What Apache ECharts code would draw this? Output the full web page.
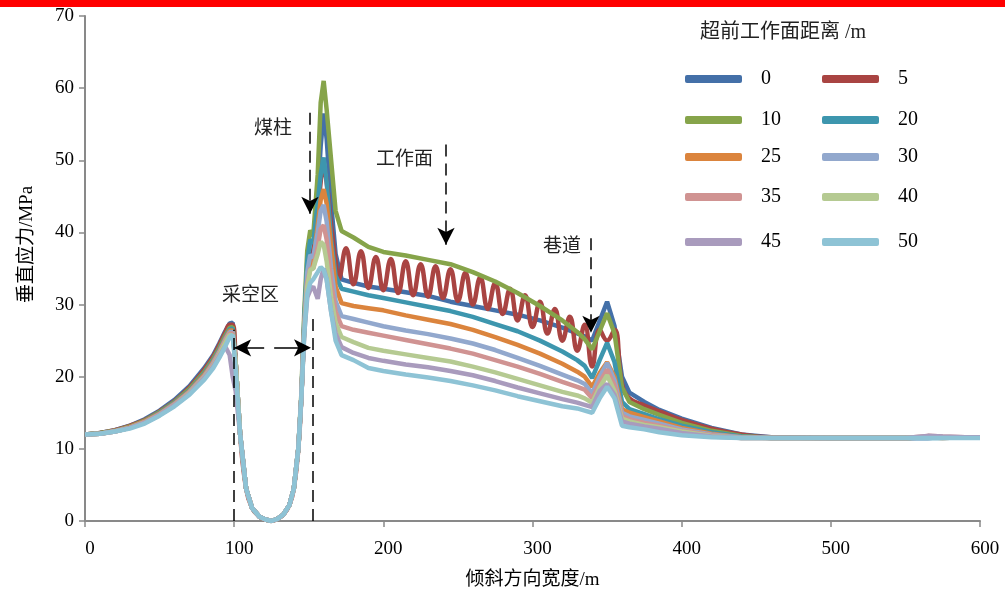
<!DOCTYPE html>
<html>
<head>
<meta charset="utf-8">
<script src="https://cdn.jsdelivr.net/npm/echarts@6/dist/echarts.min.js"></script>
<style>
html, body { margin: 0; padding: 0; background: #fff; }
#chart { width: 1005px; height: 595px; }
</style>
</head>
<body>
<div id="chart"></div>
<script>
// 倾斜方向宽度 (m)
const xs = [0, 10, 20, 30, 40, 50, 60, 70, 80, 86, 90, 94, 97, 99, 101, 104, 108, 112, 117, 121, 125, 129, 133, 137, 140,
  143, 145, 147, 149, 151, 153, 156, 158, 160, 162, 165, 168, 172, 180, 190, 200, 215, 230, 245, 260, 275, 290, 305, 320,
  330, 335, 340, 345, 350, 355, 360, 365, 375, 385, 400, 420, 440, 460, 500, 550, 565, 575, 590, 600];

// 各超前距离的垂直应力 (MPa)
const s0 = [12, 12.2, 12.6, 13.2, 14.1, 15.3, 16.8, 18.7, 21.2, 23, 24.6, 26.3, 27.4, 27.5, 22, 12, 4.5, 1.8, 0.6, 0.2, 0, 0.3, 0.9, 2.2, 4.5,
  10, 17, 27, 34, 36.5, 37.5, 45, 52, 56.5, 53, 44, 37, 33.5, 33, 32.5, 32.2, 31.7, 31.2, 30.4, 29.8, 29.2, 28.6, 27.8, 26.8,
  26, 25.6, 25, 27.7, 30.4, 27, 20, 17.8, 16.5, 15.4, 14.2, 12.9, 12, 11.6, 11.5, 11.5, 11.5, 11.6, 11.6, 11.6];
const s10 = [12, 12.2, 12.5, 13.1, 13.9, 15.1, 16.5, 18.3, 20.7, 22.5, 24, 25.7, 26.8, 26.9, 22, 12, 4.5, 1.8, 0.6, 0.2, 0, 0.3, 0.9, 2.2, 4.5,
  10, 17.5, 29, 37.5, 40.3, 39.5, 48, 58, 61, 57, 50, 43, 40.2, 39.3, 38, 37.3, 36.8, 36.2, 35.6, 34.5, 33.2, 31.6, 29.8, 27.8,
  26.2, 25.2, 23.8, 26.3, 28.8, 26, 18.5, 16.5, 15.5, 14.7, 13.6, 12.5, 11.8, 11.5, 11.5, 11.5, 11.6, 11.6, 11.6, 11.6];
const s20 = [12, 12.1, 12.5, 13, 13.8, 15, 16.4, 18.1, 20.5, 22.3, 23.8, 25.5, 26.6, 26.7, 22, 12, 4.5, 1.8, 0.6, 0.2, 0, 0.3, 0.9, 2.2, 4.5,
  10, 17, 28, 36, 39, 38.5, 44, 48, 50.4, 47, 39, 34, 32.2, 31.8, 31.3, 30.9, 30.3, 29.7, 29.1, 28.3, 27.3, 26.3, 25, 23.5,
  22.3, 21.5, 19.8, 22.3, 24.7, 22, 16.5, 15.5, 14.8, 14.1, 13.2, 12.3, 11.7, 11.5, 11.5, 11.5, 11.5, 11.5, 11.6, 11.6];
const s25 = [12, 12.1, 12.5, 13, 13.8, 14.9, 16.3, 18, 20.3, 22.1, 23.6, 25.3, 26.4, 26.4, 22, 12, 4.5, 1.8, 0.6, 0.2, 0, 0.3, 0.9, 2.2, 4.5,
  10, 17, 27, 33.5, 35.5, 36, 41, 44.5, 46, 44, 38, 32.5, 30.2, 29.8, 29.5, 29.2, 28.5, 27.9, 27.3, 26.5, 25.5, 24.4, 23.2, 21.8,
  20.7, 20, 18.6, 20.5, 22, 20, 15.5, 15, 14.4, 13.8, 12.9, 12.1, 11.6, 11.5, 11.5, 11.5, 11.6, 11.5, 11.6, 11.6];
const s30 = [12, 12.1, 12.4, 12.9, 13.7, 14.8, 16.2, 17.9, 20.1, 21.9, 23.4, 25.1, 26.2, 26.2, 22, 12, 4.5, 1.8, 0.6, 0.2, 0, 0.3, 0.9, 2.2, 4.5,
  10, 17, 27, 34.5, 36.9, 36.5, 40, 43, 43.8, 41.5, 35, 30.5, 28.4, 28, 27.5, 27, 26.4, 25.9, 25.3, 24.6, 23.7, 22.6, 21.5, 20.3,
  19.5, 19, 17.7, 20, 21.9, 19.5, 15, 14.5, 14, 13.5, 12.7, 12, 11.6, 11.5, 11.5, 11.5, 11.5, 11.6, 11.6, 11.6];
const s35 = [12, 12.1, 12.4, 12.9, 13.7, 14.8, 16.1, 17.8, 20, 21.7, 23.2, 24.9, 26, 26, 22, 12, 4.5, 1.8, 0.6, 0.2, 0, 0.3, 0.9, 2.2, 4.5,
  10, 17, 26.5, 33, 35, 35, 38, 40.5, 41, 39, 33, 29, 27, 26.5, 26.1, 25.7, 25.1, 24.5, 23.9, 23.2, 22.3, 21.4, 20.4, 19.3,
  18.6, 18.2, 17, 19.2, 21, 18.8, 14.6, 14.1, 13.6, 13.2, 12.5, 11.9, 11.5, 11.5, 11.5, 11.5, 11.8, 11.7, 11.6, 11.6];
const s40 = [12, 12.1, 12.4, 12.9, 13.6, 14.7, 16, 17.7, 19.9, 21.5, 23, 24.7, 25.8, 25.7, 22, 12, 4.5, 1.8, 0.6, 0.2, 0, 0.3, 0.9, 2.2, 4.5,
  10, 17, 26.5, 32.5, 34.8, 35, 37, 38.7, 38.3, 36, 31, 27.5, 25.5, 24.8, 24, 23.6, 23.1, 22.6, 22.1, 21.4, 20.6, 19.7, 18.8, 17.9,
  17.4, 17, 16.4, 18.5, 20.2, 18, 14.2, 13.8, 13.3, 13, 12.4, 11.8, 11.5, 11.5, 11.5, 11.5, 11.6, 11.6, 11.6, 11.6];
const s45 = [12, 12.1, 12.4, 12.9, 13.6, 14.7, 16, 17.6, 19.8, 21.4, 22.8, 24.2, 23, 20, 18, 12, 4.5, 1.8, 0.6, 0.2, 0, 0.3, 0.9, 2.2, 4.5,
  10, 17, 26, 31, 32, 32.5, 30.8, 33.5, 35, 33.5, 29, 26, 24.1, 23.3, 22.6, 22.2, 21.7, 21.3, 20.8, 20.2, 19.4, 18.5, 17.7, 16.9,
  16.4, 16.1, 15.8, 18, 19, 17.5, 13.8, 13.5, 13.1, 12.8, 12.2, 11.7, 11.5, 11.5, 11.5, 11.5, 11.8, 11.7, 11.6, 11.6];
const s50 = [12, 12.1, 12.4, 12.8, 13.5, 14.6, 15.9, 17.5, 19.6, 21.2, 22.6, 24.2, 25.5, 25.8, 21, 12, 4.5, 1.8, 0.6, 0.2, 0, 0.3, 0.9, 2.2, 4.5,
  10, 17, 26, 31.5, 33, 33.5, 34.5, 35.2, 34.8, 33.5, 29, 25, 23, 22.3, 21.2, 20.8, 20.3, 19.9, 19.4, 18.8, 18.1, 17.3, 16.6, 15.9,
  15.6, 15.3, 15, 17, 18.6, 17, 13.2, 13, 12.7, 12.3, 11.9, 11.6, 11.5, 11.5, 11.5, 11.5, 11.5, 11.5, 11.5, 11.5];

// 超前 5 m 的曲线在工作面段有波动，单独取点
const xs5 = [0, 10, 20, 30, 40, 50, 60, 70, 80, 86, 90, 94, 97, 99, 101, 104, 108, 112, 117, 121, 125, 129, 133, 137, 140,
  143, 145, 147, 149, 151, 153, 156, 158, 160, 162, 165, 168, 170, 175, 180, 185, 190, 195, 200, 205, 210, 215, 220, 225,
  230, 235, 240, 245, 250, 255, 260, 265, 270, 275, 280, 285, 290, 295, 300, 305, 310, 315, 320, 325, 330, 335, 340,
  345, 350, 355, 360, 365, 375, 385, 400, 420, 440, 460, 500, 550, 565, 575, 590, 600];
const s5 = [12, 12.2, 12.6, 13.2, 14, 15.2, 16.6, 18.5, 21, 22.8, 24.4, 26.1, 27.2, 27.2, 22, 12, 4.5, 1.8, 0.6, 0.2, 0, 0.3, 0.9, 2.2, 4.5,
  10, 17, 27, 34, 36, 37, 42, 47, 49, 47, 41, 36, 33.5, 37.8, 32.8, 37.4, 32.3, 36.6, 32, 36.3, 31.6, 36, 31.3, 35.6,
  31.1, 35.3, 30.9, 34.9, 30.5, 34.4, 30, 33.8, 29.4, 33, 28.7, 32.2, 27.8, 31.3, 26.9, 30.4, 26, 29.4, 25, 28.3, 23.6, 27.2, 21.4,
  26.5, 25, 26.5, 19, 17, 16, 15.2, 14, 12.8, 12, 11.6, 11.5, 11.5, 11.6, 11.6, 11.6, 11.6];

const names = ['0', '5', '10', '20', '25', '30', '35', '40', '45', '50'];
const colors = ['#4470A8', '#A94442', '#86A44A', '#3D96AE', '#DB843D', '#92A8CD', '#D09392', '#B5CA92', '#A99BBD', '#8EC3D5'];
const values = [s0, s5, s10, s20, s25, s30, s35, s40, s45, s50];

const serif = '"Liberation Serif", "Noto Sans CJK SC", serif';
const Chart = echarts.init(document.getElementById('chart'));

const lineSeries = names.map((n, i) => {
  const xArr = n === '5' ? xs5 : xs;
  return {
    name: n,
    type: 'line',
    symbol: 'none',
    smooth: n === '5' ? 0.45 : false,
    lineStyle: { width: 4.5, color: colors[i] },
    itemStyle: { color: colors[i] },
    emphasis: { disabled: true },
    data: xArr.map((x, k) => [x, values[i][k]])
  };
});

// 图例位置：两列五行
const legendRows = [80, 121, 158, 198, 243];
const legends = names.map((n, i) => ({
  data: [n],
  left: i % 2 === 0 ? 685 : 822,
  top: legendRows[Math.floor(i / 2)] - 11,
  padding: 0,
  icon: 'roundRect',
  itemWidth: 57,
  itemHeight: 8,
  selectedMode: false,
  textStyle: { fontFamily: serif, fontSize: 20, color: '#000', padding: [2, 0, 0, 14] }
}));

const dash = { color: '#000', width: 1.5, type: [12, 7] };
const annot = {
  name: 'annot',
  type: 'line',
  data: [],
  silent: true,
  markLine: {
    silent: true,
    animation: false,
    label: { show: false },
    emphasis: { disabled: true },
    symbolSize: [13, 17],
    data: [
      // 采空区边界
      [{ coord: [100, 0], symbol: 'none', lineStyle: dash }, { coord: [100, 26.5], symbol: 'none' }],
      [{ coord: [152.5, 0], symbol: 'none', lineStyle: dash }, { coord: [152.5, 28.2], symbol: 'none' }],
      [{ coord: [100, 24], symbol: 'arrow', lineStyle: { color: '#000', width: 1.5, type: [30, 10] } }, { coord: [151.5, 24], symbol: 'arrow' }],
      // 煤柱、工作面、巷道
      [{ coord: [150.8, 56.6], symbol: 'none', lineStyle: dash }, { coord: [150.8, 42.6], symbol: 'arrow' }],
      [{ coord: [242, 52.2], symbol: 'none', lineStyle: dash }, { coord: [242, 38.3], symbol: 'arrow' }],
      [{ coord: [339.2, 39.2], symbol: 'none', lineStyle: dash }, { coord: [339.2, 26.1], symbol: 'arrow' }]
    ]
  }
};

const txt = (text, x, y, size) => ({
  type: 'text', left: x, top: y,
  style: { text: text, font: (size || 19) + 'px ' + serif, fill: '#222' }
});

Chart.setOption({
  animation: false,
  color: colors,
  grid: { left: 85, right: 25, top: 16, bottom: 74 },
  legend: legends,
  xAxis: {
    type: 'value',
    min: 0, max: 600, interval: 100,
    name: '倾斜方向宽度/m',
    nameLocation: 'middle',
    nameGap: 50,
    nameTextStyle: { fontFamily: serif, fontSize: 19, color: '#000' },
    axisLine: { lineStyle: { color: '#898989', width: 2 } },
    axisTick: { show: true, length: 6, lineStyle: { color: '#898989', width: 1.5 } },
    axisLabel: { margin: 19, fontFamily: serif, fontSize: 19, color: '#000', padding: [0, 0, 0, 10] },
    splitLine: { show: false }
  },
  yAxis: {
    type: 'value',
    min: 0, max: 70, interval: 10,
    name: '垂直应力/MPa',
    nameLocation: 'middle',
    nameGap: 48,
    nameTextStyle: { fontFamily: serif, fontSize: 19, color: '#000', padding: [0, 0, 0, 48] },
    axisLine: { show: true, lineStyle: { color: '#898989', width: 2 } },
    axisTick: { show: true, length: 6, lineStyle: { color: '#898989', width: 1.5 } },
    axisLabel: { margin: 11, fontFamily: serif, fontSize: 19, color: '#000' },
    splitLine: { show: false }
  },
  graphic: [
    { type: 'rect', left: 0, top: 0, shape: { width: 1005, height: 7 }, style: { fill: '#ff0000' } },
    txt('超前工作面距离 /m', 700, 23, 20),
    txt('煤柱', 254, 120),
    txt('工作面', 376, 151),
    txt('巷道', 543, 238),
    txt('采空区', 222, 287)
  ],
  series: lineSeries.concat([annot])
});
</script>
</body>
</html>
